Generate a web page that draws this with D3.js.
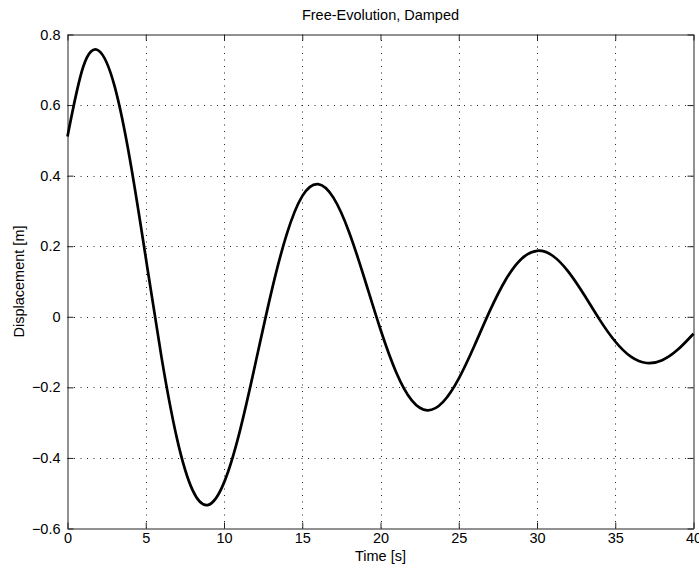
<!DOCTYPE html>
<html>
<head>
<meta charset="utf-8">
<script src="https://cdn.jsdelivr.net/npm/d3@7"></script>
<style>
  html, body { margin: 0; padding: 0; background: #fff; }
  svg { display: block; }
  text { font-family: "Liberation Sans", Arial, sans-serif; fill: #000; }
</style>
</head>
<body>
<script>
// Free oscillation of a damped system: displacement sampled once per second
const timeS = d3.range(0, 41, 1);
const displacement = [
  0.511, 0.708, 0.754, 0.655, 0.443, 0.168, -0.113, -0.346, -0.492, -0.533,
  -0.470, -0.326, -0.134, 0.065, 0.233, 0.342, 0.376, 0.337, 0.239, 0.105,
  -0.036, -0.157, -0.237, -0.265, -0.241, -0.175, -0.082, 0.018, 0.105, 0.164,
  0.187, 0.173, 0.128, 0.063, -0.008, -0.070, -0.113, -0.131, -0.123, -0.093,
  -0.048
];
const xTicks = [0, 5, 10, 15, 20, 25, 30, 35, 40];
const yTicks = [-0.6, -0.4, -0.2, 0, 0.2, 0.4, 0.6, 0.8];
const titleText = "Free-Evolution, Damped";
const xLabelText = "Time [s]";
const yLabelText = "Displacement [m]";

const W = 699, H = 570;
const plotL = 67.5, plotR = 693.5, plotT = 34.5, plotB = 528.5;

const x = d3.scaleLinear().domain([0, 40]).range([plotL, plotR]);
const y = d3.scaleLinear().domain([-0.6, 0.8]).range([plotB, plotT]);

const svg = d3.select("body").append("svg")
  .attr("width", W).attr("height", H);

const fmtY = v => (v === 0 ? "0" : d3.format(".1f")(v));

// dotted grid
const grid = svg.append("g")
  .attr("stroke", "#222").attr("stroke-width", 1)
  .attr("stroke-dasharray", "1,5.5").attr("fill", "none");
grid.selectAll("line.gx").data(xTicks.slice(1, -1)).join("line")
  .attr("x1", d => Math.round(x(d)) + 0.5).attr("x2", d => Math.round(x(d)) + 0.5)
  .attr("y1", plotB).attr("y2", plotT);
grid.selectAll("line.gy").data(yTicks.slice(1, -1)).join("line")
  .attr("y1", d => Math.round(y(d)) + 0.5).attr("y2", d => Math.round(y(d)) + 0.5)
  .attr("x1", plotL).attr("x2", plotR);

// axes: bottom/left with labels, top/right mirrors, inward ticks
const tickLen = 6;
const axBottom = d3.axisBottom(x).tickValues(xTicks).tickSizeInner(-tickLen).tickSizeOuter(0).tickPadding(4).tickFormat(d3.format("d"));
const axTop = d3.axisTop(x).tickValues(xTicks).tickSizeInner(-tickLen).tickSizeOuter(0).tickFormat("");
const axLeft = d3.axisLeft(y).tickValues(yTicks).tickSizeInner(-tickLen).tickSizeOuter(0).tickPadding(7).tickFormat(fmtY);
const axRight = d3.axisRight(y).tickValues(yTicks).tickSizeInner(-tickLen).tickSizeOuter(0).tickFormat("");

function styleAxis(g) {
  g.select(".domain").attr("stroke", "#222").attr("stroke-width", 1);
  g.selectAll(".tick line").attr("stroke", "#222").attr("stroke-width", 1);
  g.selectAll(".tick text").attr("font-size", 14.5).attr("font-family", "Liberation Sans, Arial, sans-serif").attr("fill", "#000");
}

svg.append("g").attr("transform", `translate(0,${plotB})`).call(axBottom).call(styleAxis);
svg.append("g").attr("transform", `translate(0,${plotT})`).call(axTop).call(styleAxis);
svg.append("g").attr("transform", `translate(${plotL},0)`).call(axLeft).call(styleAxis);
svg.append("g").attr("transform", `translate(${plotR},0)`).call(axRight).call(styleAxis);

// response curve
const line = d3.line()
  .x((d, i) => x(timeS[i]))
  .y(d => y(d))
  .curve(d3.curveNatural);

svg.append("path")
  .datum(displacement)
  .attr("d", line)
  .attr("fill", "none")
  .attr("stroke", "#000")
  .attr("stroke-width", 2.7)
  .attr("stroke-linejoin", "round");

// title and axis labels
const cx = (plotL + plotR) / 2;
svg.append("text").attr("x", cx).attr("y", 20)
  .attr("text-anchor", "middle").attr("font-size", 14.5).text(titleText);
svg.append("text").attr("x", cx).attr("y", 561)
  .attr("text-anchor", "middle").attr("font-size", 14.5).text(xLabelText);
svg.append("text")
  .attr("transform", `translate(24,${(plotT + plotB) / 2}) rotate(-90)`)
  .attr("text-anchor", "middle").attr("font-size", 14.5).text(yLabelText);
</script>
</body>
</html>
